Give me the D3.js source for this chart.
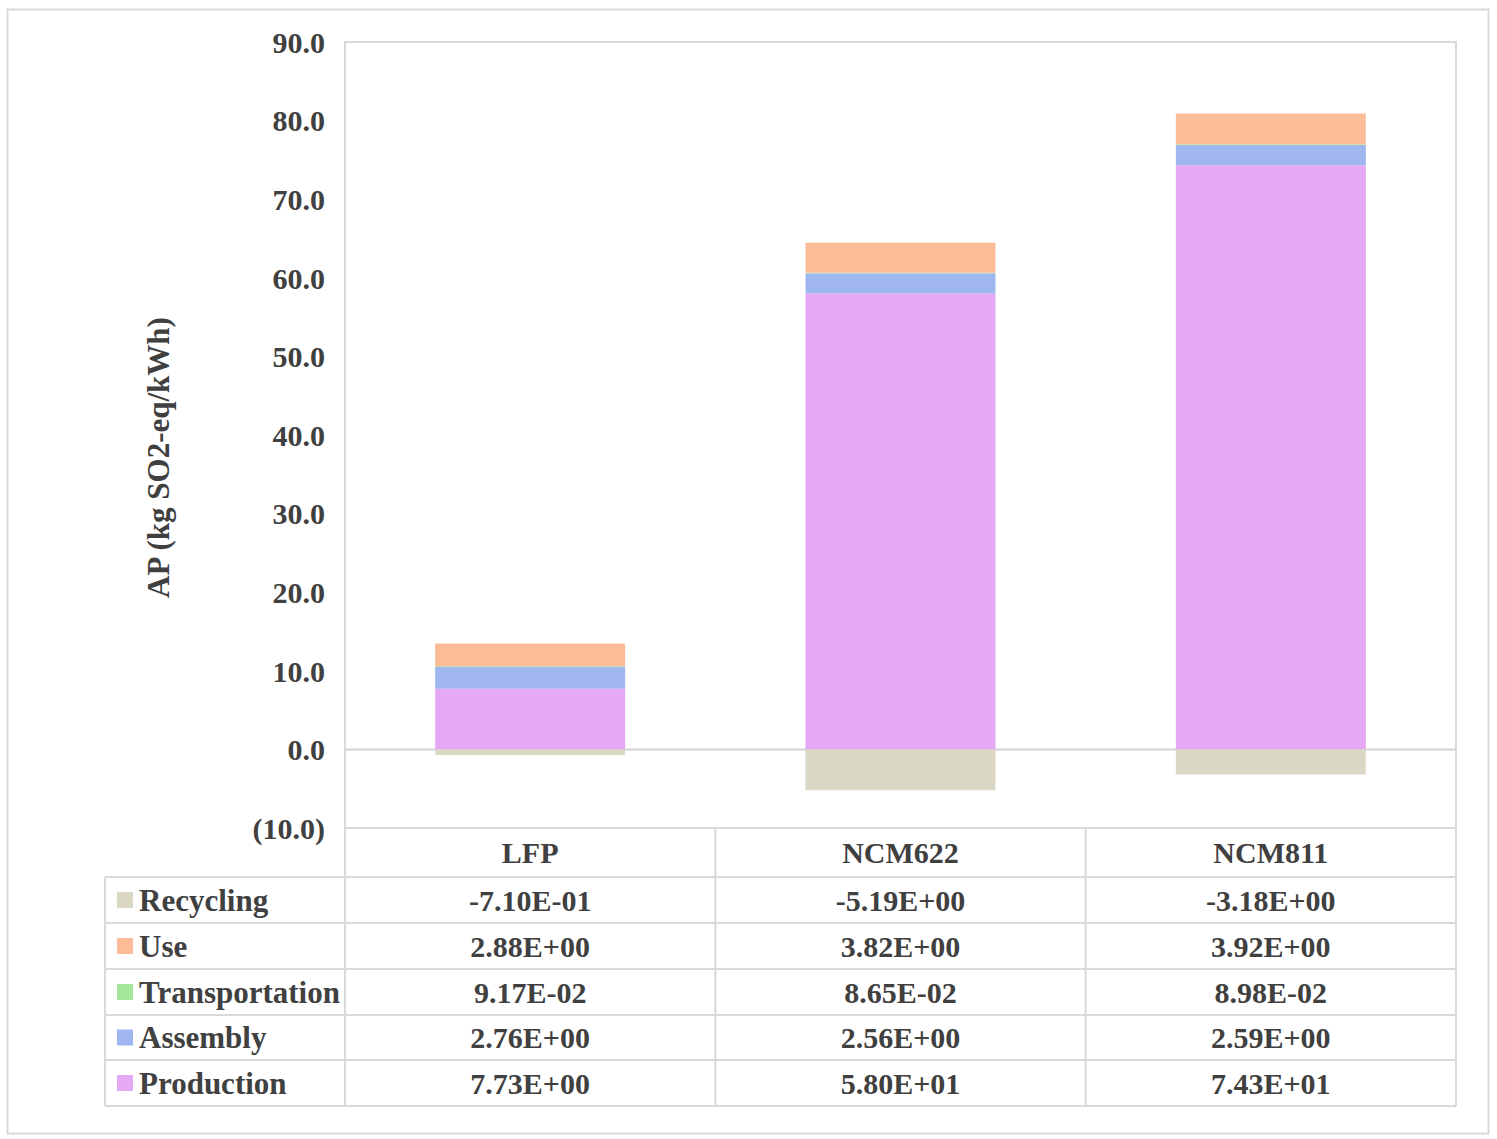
<!DOCTYPE html>
<html>
<head>
<meta charset="utf-8">
<script src="https://cdn.jsdelivr.net/npm/d3@7"></script>
<style>
  html, body { margin: 0; padding: 0; background: #ffffff; }
  svg { display: block; }
  text { font-family: "Liberation Serif", "Times New Roman", serif; font-weight: bold; fill: #404040; }
</style>
</head>
<body>
<svg id="chart" width="1497" height="1139"></svg>
<script>
// Acidification potential per life-cycle stage for three battery chemistries
const categories = ["LFP", "NCM622", "NCM811"];
const stages = ["Recycling", "Use", "Transportation", "Assembly", "Production"];
const recycling      = [-0.710, -5.19, -3.18];
const use            = [2.88, 3.82, 3.92];
const transportation = [0.0917, 0.0865, 0.0898];
const assembly       = [2.76, 2.56, 2.59];
const production     = [7.73, 58.0, 74.3];
const tableLabels = {
  Recycling:      ["-7.10E-01", "-5.19E+00", "-3.18E+00"],
  Use:            ["2.88E+00", "3.82E+00", "3.92E+00"],
  Transportation: ["9.17E-02", "8.65E-02", "8.98E-02"],
  Assembly:       ["2.76E+00", "2.56E+00", "2.59E+00"],
  Production:     ["7.73E+00", "5.80E+01", "7.43E+01"]
};
const yTicks = [-10, 0, 10, 20, 30, 40, 50, 60, 70, 80, 90];
const yTitle = "AP (kg SO2-eq/kWh)";

const seriesValues = {
  Recycling: recycling, Use: use, Transportation: transportation,
  Assembly: assembly, Production: production
};
const colors = {
  Recycling: "#dad7c4",
  Use: "#fbbc97",
  Transportation: "#a3e79a",
  Assembly: "#9fb7ee",
  Production: "#e6a7f4"
};

const svg = d3.select("#chart");
const gridColor = "#d9d9d9";
const fontSize = 30;

// outer frame
svg.append("rect")
  .attr("x", 7.5).attr("y", 9.5).attr("width", 1481).attr("height", 1124)
  .attr("fill", "none").attr("stroke", gridColor).attr("stroke-width", 2);

const plot = { left: 345, right: 1456, top: 42, bottom: 828 };

const x = d3.scaleBand().domain(categories).range([plot.left, plot.right]).padding(0);
const y = d3.scaleLinear().domain([-10, 90]).range([plot.bottom, plot.top]);
const barW = x.bandwidth() * 0.513;

// plot area border (left, top, right)
svg.append("path")
  .attr("d", `M${plot.left},${plot.bottom}V${plot.top}H${plot.right}V${plot.bottom}`)
  .attr("fill", "none").attr("stroke", gridColor).attr("stroke-width", 2);

// zero line
svg.append("line")
  .attr("x1", plot.left).attr("x2", plot.right)
  .attr("y1", y(0)).attr("y2", y(0))
  .attr("stroke", "#d3d3d3").attr("stroke-width", 2);

// stacked bars: positives stacked upward from zero, recycling below zero
const stackOrder = ["Production", "Assembly", "Transportation", "Use"];
const rows = categories.map((c, i) => {
  const r = { category: c };
  stages.forEach(s => r[s] = seriesValues[s][i]);
  return r;
});
const stacked = d3.stack().keys(stackOrder)(rows);

const barsG = svg.append("g");
stacked.forEach(layer => {
  barsG.selectAll(null).data(layer).enter().append("rect")
    .attr("x", d => x(d.data.category) + (x.bandwidth() - barW) / 2)
    .attr("width", barW)
    .attr("y", d => y(d[1]))
    .attr("height", d => y(d[0]) - y(d[1]))
    .attr("fill", colors[layer.key]);
});
barsG.selectAll(null).data(rows).enter().append("rect")
  .attr("x", d => x(d.category) + (x.bandwidth() - barW) / 2)
  .attr("width", barW)
  .attr("y", y(0))
  .attr("height", d => y(d.Recycling) - y(0))
  .attr("fill", colors.Recycling);

// y axis labels (accounting format for negatives)
const yAxis = d3.axisLeft(y).tickValues(yTicks).tickSize(0).tickPadding(20)
  .tickFormat(v => v < 0 ? `(${Math.abs(v).toFixed(1)})` : v.toFixed(1));
const yg = svg.append("g").attr("transform", `translate(${plot.left},0)`).call(yAxis);
yg.select(".domain").remove();
yg.selectAll("text")
  .attr("font-family", "Liberation Serif, serif")
  .attr("font-weight", "bold")
  .attr("font-size", fontSize)
  .attr("fill", "#404040")
  .attr("dy", "0.34em");

// y axis title
svg.append("text")
  .attr("transform", `translate(169,${(318 + 597) / 2}) rotate(-90)`)
  .attr("text-anchor", "middle")
  .attr("font-size", 31)
  .text(yTitle);

// data table
const table = { left: 105, top: 828 };
const rowEdges = [877, 923, 969, 1015, 1060, 1106];
const tableG = svg.append("g");

// horizontal rules
tableG.append("line")
  .attr("x1", plot.left).attr("x2", plot.right).attr("y1", table.top).attr("y2", table.top)
  .attr("stroke", gridColor).attr("stroke-width", 2);
rowEdges.forEach(yy => {
  tableG.append("line")
    .attr("x1", table.left).attr("x2", plot.right).attr("y1", yy).attr("y2", yy)
    .attr("stroke", gridColor).attr("stroke-width", 2);
});
// vertical rules
const colEdges = [plot.left].concat(categories.map(c => x(c) + x.bandwidth()));
colEdges.forEach(xx => {
  tableG.append("line")
    .attr("x1", xx).attr("x2", xx).attr("y1", table.top).attr("y2", rowEdges[rowEdges.length - 1])
    .attr("stroke", gridColor).attr("stroke-width", 2);
});
tableG.append("line")
  .attr("x1", table.left).attr("x2", table.left).attr("y1", rowEdges[0]).attr("y2", rowEdges[rowEdges.length - 1])
  .attr("stroke", gridColor).attr("stroke-width", 2);

// header: category names
tableG.selectAll(null).data(categories).enter().append("text")
  .attr("x", d => x(d) + x.bandwidth() / 2)
  .attr("y", (table.top + rowEdges[0]) / 2)
  .attr("dy", "0.35em")
  .attr("text-anchor", "middle")
  .attr("font-size", fontSize)
  .text(d => d);

// body rows: legend key, stage name, values
stages.forEach((s, i) => {
  const cy = (rowEdges[i] + rowEdges[i + 1]) / 2;
  tableG.append("rect")
    .attr("x", 117).attr("y", cy - 8).attr("width", 16).attr("height", 16)
    .attr("fill", colors[s]);
  tableG.append("text")
    .attr("x", 139).attr("y", cy).attr("dy", "0.35em")
    .attr("font-size", 31)
    .text(s);
  tableG.selectAll(null).data(categories).enter().append("text")
    .attr("x", d => x(d) + x.bandwidth() / 2)
    .attr("y", cy).attr("dy", "0.35em")
    .attr("text-anchor", "middle")
    .attr("font-size", fontSize)
    .text((d, j) => tableLabels[s][j]);
});
</script>
</body>
</html>
